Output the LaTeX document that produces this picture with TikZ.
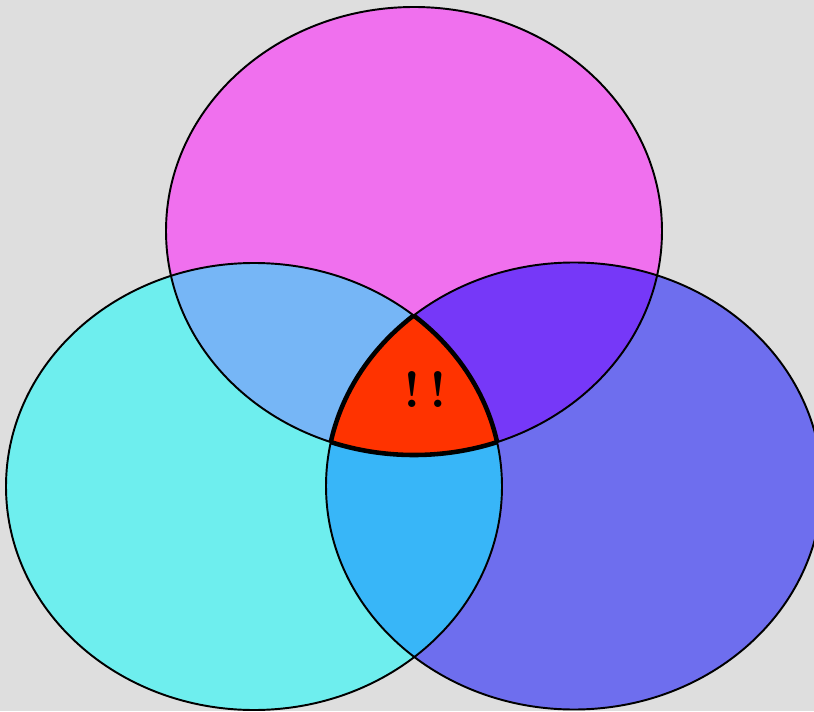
\documentclass[tikz,border=0pt]{standalone}
\usepackage{xcolor}
\usepackage{tikz}
\definecolor{bggray}{HTML}{DEDEDE}
\definecolor{topmagenta}{HTML}{F070EE}
\definecolor{leftcyan}{HTML}{6EEEEE}
\definecolor{rightblue}{HTML}{6E6EEE}
\definecolor{topleft}{HTML}{76B6F6}
\definecolor{topright}{HTML}{7638F8}
\definecolor{leftright}{HTML}{38B6F8}
\definecolor{allred}{HTML}{FF3300}
\newcommand{\topset}{(8.28,9.60) ellipse [x radius=4.96, y radius=4.48]}
\newcommand{\leftset}{(5.08,4.49) ellipse [x radius=4.96, y radius=4.47]}
\newcommand{\rightset}{(11.48,4.50) ellipse [x radius=4.96, y radius=4.47]}
\tikzset{
  vennline/.style={black,line width=1.1pt},
  coreline/.style={black,line width=2.6pt,line join=round},
  marklabel/.style={font=\fontsize{29}{31}\selectfont\bfseries,inner sep=0pt},
}

\begin{document}
\begin{tikzpicture}
  \useasboundingbox (0,0) rectangle (16.28,14.22);
  \fill[bggray] (0,0) rectangle (16.28,14.22);
  % the three sets
  \fill[topmagenta] \topset;
  \fill[leftcyan] \leftset;
  \fill[rightblue] \rightset;
  % pairwise overlaps
  \begin{scope}
    \clip \topset;
    \fill[topleft] \leftset;
    \fill[topright] \rightset;
  \end{scope}
  \begin{scope}
    \clip \leftset;
    \fill[leftright] \rightset;
  \end{scope}
  % middle
  \begin{scope}
    \clip \topset;
    \clip \leftset;
    \fill[allred] \rightset;
  \end{scope}
  \draw[vennline] \topset;
  \draw[vennline] \leftset;
  \draw[vennline] \rightset;
  \begin{scope}
    \clip \leftset;
    \clip \rightset;
    \draw[coreline] \topset;
  \end{scope}
  \begin{scope}
    \clip \topset;
    \clip \rightset;
    \draw[coreline] \leftset;
  \end{scope}
  \begin{scope}
    \clip \topset;
    \clip \leftset;
    \draw[coreline] \rightset;
  \end{scope}
  \node[marklabel] (warn) at (8.50,6.42) {!\,!};
\end{tikzpicture}
\end{document}
